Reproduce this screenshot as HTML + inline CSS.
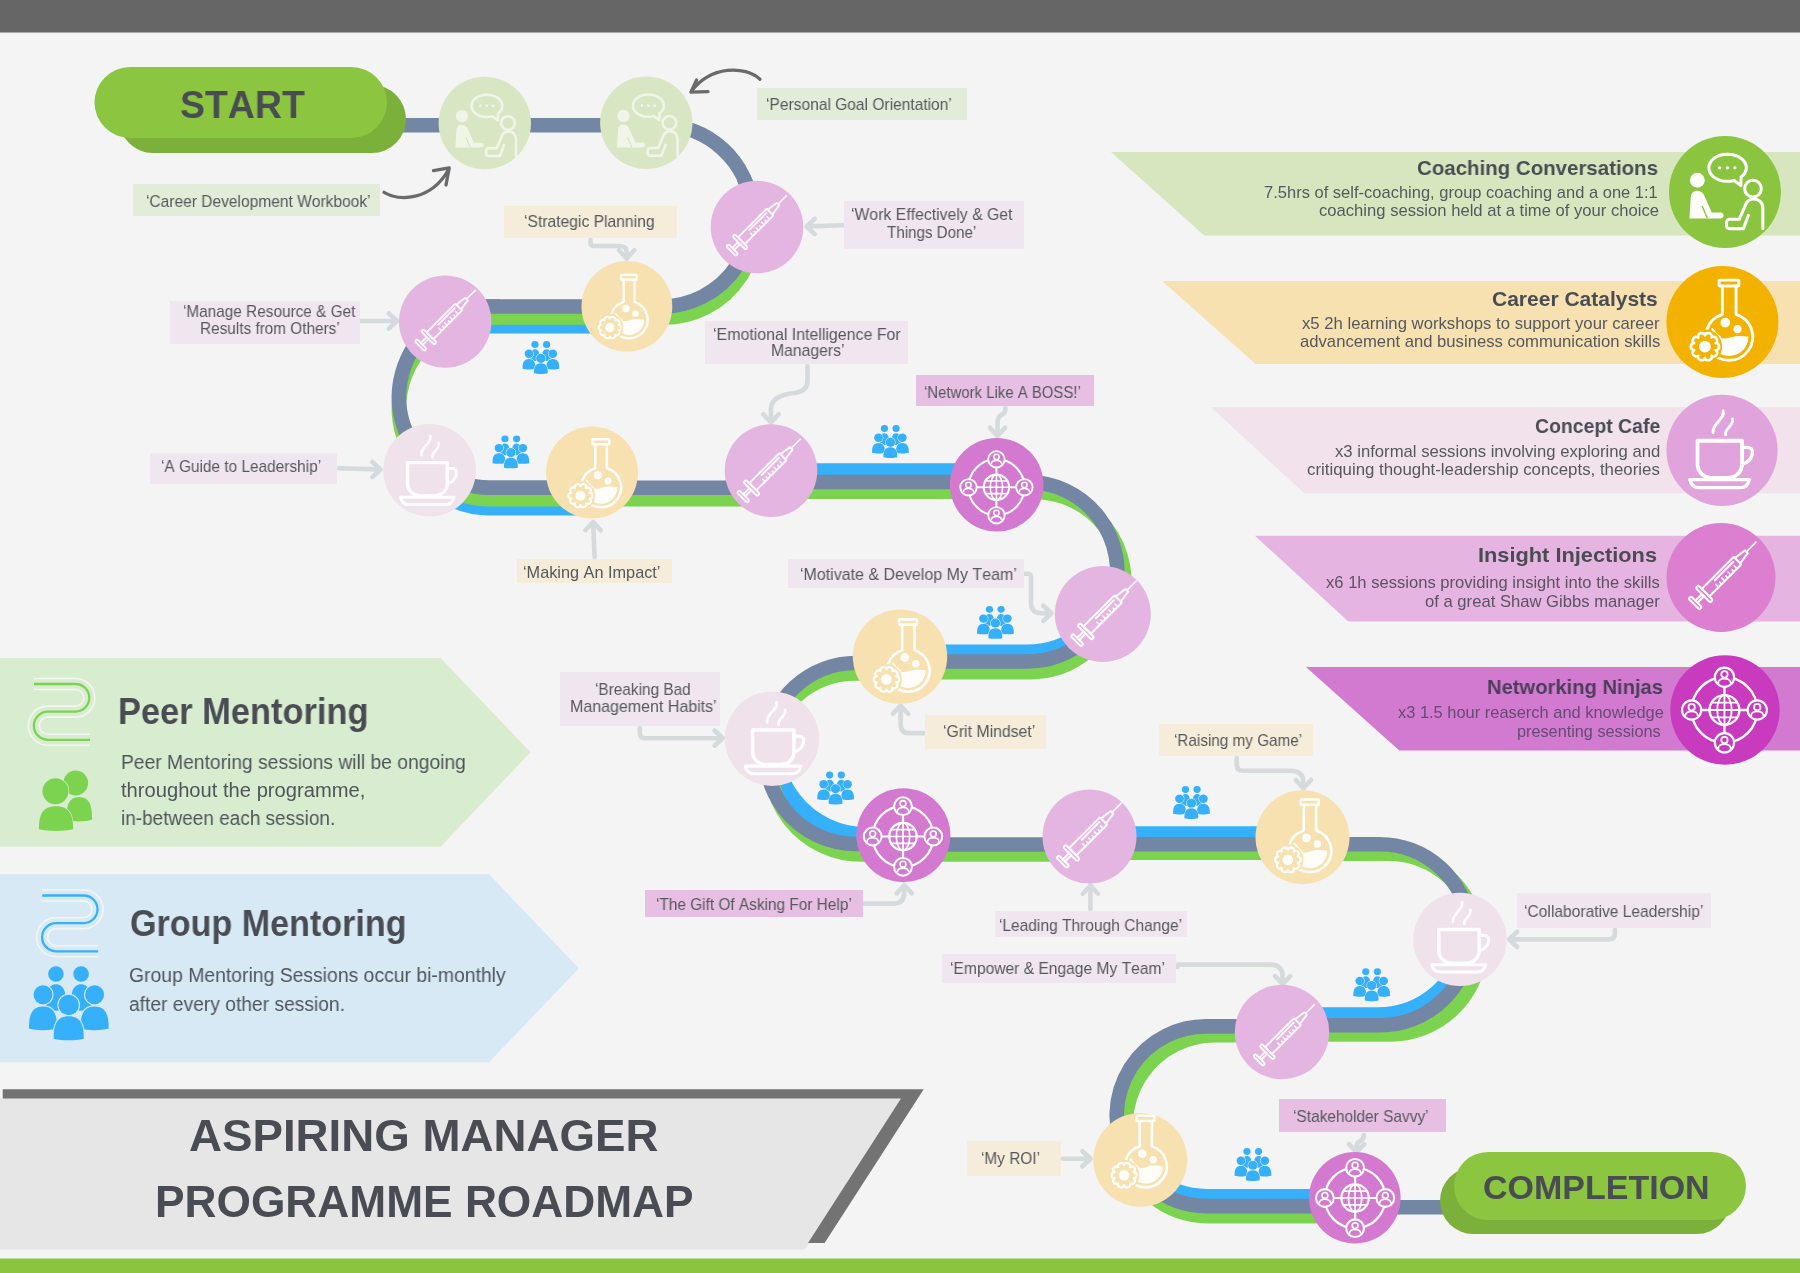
<!DOCTYPE html>
<html lang="en"><head><meta charset="utf-8"><title>Aspiring Manager Programme Roadmap</title>
<style>
html,body{margin:0;padding:0;background:#f4f4f4;}
body{width:1800px;height:1273px;position:relative;overflow:hidden;font-family:"Liberation Sans",sans-serif;color:#4d5157;}
svg.g{position:absolute;left:0;top:0;}
.l{position:absolute;display:flex;align-items:center;justify-content:center;text-align:center;font-size:16px;line-height:16.5px;letter-spacing:-0.2px;color:#55585c;white-space:nowrap;box-sizing:border-box;}
.t{position:absolute;white-space:nowrap;font-kerning:none;transform-origin:0 50%;will-change:transform;}
.r{text-align:right;}
.b{font-weight:bold;}
</style></head><body>

<svg class="g" width="1800" height="1273" viewBox="0 0 1800 1273">
<defs>
<symbol id="ic-coach" viewBox="0 0 100 100">
 <g fill="none" stroke="#fff" stroke-width="2.7" stroke-linecap="round" stroke-linejoin="round">
  <path d="M52.2 16.3C42.6 16.3 35.6 21.7 35.6 28.4C35.6 35.1 42.6 40.5 52.2 40.5C54.3 40.5 56.3 40.2 58.2 39.7L64.2 44.3L64.3 36.7C67.3 34.6 69 31.7 69 28.4C69 21.7 61.8 16.3 52.2 16.3Z"/>
  <circle cx="75" cy="47" r="7.4"/>
  <path d="M83.8 82.6V64.5C83.8 59.3 80.2 56.2 75.6 56.2C72.2 56.2 69.8 58 68.6 60.8L62.8 74.3H54C50.4 74.3 50.4 82.7 54 82.7H66.4L70.9 70.8"/>
 </g>
 <g fill="#fff">
  <circle cx="45.2" cy="28.4" r="1.45"/><circle cx="52.2" cy="28.4" r="1.45"/><circle cx="58.8" cy="28.4" r="1.45"/>
  <circle cx="25.3" cy="39.5" r="6.6"/>
  <path d="M18.2 73.6L19.4 55.2C19.7 50.6 22 48.8 25 48.8C28.4 48.8 30.4 50.6 31.6 53.4L38.2 68.4H46.2C49.6 68.4 49.6 73.6 46.2 73.6Z"/>
 </g>
 <path d="M29.6 62.5L34.2 73.4" fill="none" stroke="currentColor" stroke-width="1.3"/>
</symbol>

<symbol id="ic-flask" viewBox="0 0 100 100">
 <g fill="none" stroke="#fff" stroke-width="2.6" stroke-linecap="round" stroke-linejoin="round">
  <rect x="47" y="12.6" width="17.7" height="5.2" rx="0.6"/>
  <path d="M50 18V43.1A21 21 0 1 0 62.2 43.1V18"/>
  <path d="M41 56.3Q43.5 61 47.8 63.6" stroke-width="2"/>
 </g>
 <g fill="#fff">
  <circle cx="52.6" cy="50.5" r="4.3"/><circle cx="63.5" cy="56.4" r="3.7"/>
  <path d="M38.8 63.2C44 61.5 49 66.5 56 64C62 61.8 68 62.2 73.2 63.2A17.2 17.2 0 0 1 38.8 63.2Z"/>
 </g>
 <circle cx="34.4" cy="72" r="15.3" fill="currentColor"/>
 <path d="M47.00 72.00 L46.98 72.33 L46.94 72.66 L46.85 72.98 L46.74 73.30 L46.60 73.61 L46.42 73.90 L46.20 74.19 L45.95 74.45 L45.65 74.70 L45.30 74.92 L44.87 75.10 L44.01 75.12 L44.69 75.64 L44.94 76.05 L45.09 76.43 L45.19 76.80 L45.23 77.17 L45.24 77.52 L45.21 77.87 L45.15 78.20 L45.05 78.53 L44.93 78.84 L44.77 79.13 L44.59 79.41 L44.39 79.66 L44.16 79.90 L43.90 80.11 L43.62 80.30 L43.32 80.47 L43.00 80.60 L42.66 80.71 L42.30 80.77 L41.92 80.80 L41.50 80.77 L41.05 80.66 L40.34 80.17 L40.58 81.00 L40.55 81.47 L40.45 81.87 L40.30 82.23 L40.13 82.55 L39.92 82.84 L39.70 83.10 L39.45 83.34 L39.18 83.54 L38.90 83.72 L38.60 83.87 L38.29 83.98 L37.98 84.07 L37.65 84.13 L37.32 84.15 L36.98 84.14 L36.64 84.10 L36.30 84.02 L35.97 83.90 L35.63 83.74 L35.31 83.54 L34.99 83.27 L34.69 82.91 L34.40 82.10 L34.11 82.91 L33.81 83.27 L33.49 83.54 L33.17 83.74 L32.83 83.90 L32.50 84.02 L32.16 84.10 L31.82 84.14 L31.48 84.15 L31.15 84.13 L30.82 84.07 L30.51 83.98 L30.20 83.87 L29.90 83.72 L29.62 83.54 L29.35 83.34 L29.10 83.10 L28.88 82.84 L28.67 82.55 L28.50 82.23 L28.35 81.87 L28.25 81.47 L28.22 81.00 L28.46 80.17 L27.75 80.66 L27.30 80.77 L26.88 80.80 L26.50 80.77 L26.14 80.71 L25.80 80.60 L25.48 80.47 L25.18 80.30 L24.90 80.11 L24.64 79.90 L24.41 79.66 L24.21 79.41 L24.03 79.13 L23.87 78.84 L23.75 78.53 L23.65 78.20 L23.59 77.87 L23.56 77.52 L23.57 77.17 L23.61 76.80 L23.71 76.43 L23.86 76.05 L24.11 75.64 L24.79 75.12 L23.93 75.10 L23.50 74.92 L23.15 74.70 L22.85 74.45 L22.60 74.19 L22.38 73.90 L22.20 73.61 L22.06 73.30 L21.95 72.98 L21.86 72.66 L21.82 72.33 L21.80 72.00 L21.82 71.67 L21.86 71.34 L21.95 71.02 L22.06 70.70 L22.20 70.39 L22.38 70.10 L22.60 69.81 L22.85 69.55 L23.15 69.30 L23.50 69.08 L23.93 68.90 L24.79 68.88 L24.11 68.36 L23.86 67.95 L23.71 67.57 L23.61 67.20 L23.57 66.83 L23.56 66.48 L23.59 66.13 L23.65 65.80 L23.75 65.47 L23.87 65.16 L24.03 64.87 L24.21 64.59 L24.41 64.34 L24.64 64.10 L24.90 63.89 L25.18 63.70 L25.48 63.53 L25.80 63.40 L26.14 63.29 L26.50 63.23 L26.88 63.20 L27.30 63.23 L27.75 63.34 L28.46 63.83 L28.22 63.00 L28.25 62.53 L28.35 62.13 L28.50 61.77 L28.67 61.45 L28.88 61.16 L29.10 60.90 L29.35 60.66 L29.62 60.46 L29.90 60.28 L30.20 60.13 L30.51 60.02 L30.82 59.93 L31.15 59.87 L31.48 59.85 L31.82 59.86 L32.16 59.90 L32.50 59.98 L32.83 60.10 L33.17 60.26 L33.49 60.46 L33.81 60.73 L34.11 61.09 L34.40 61.90 L34.69 61.09 L34.99 60.73 L35.31 60.46 L35.63 60.26 L35.97 60.10 L36.30 59.98 L36.64 59.90 L36.98 59.86 L37.32 59.85 L37.65 59.87 L37.98 59.93 L38.29 60.02 L38.60 60.13 L38.90 60.28 L39.18 60.46 L39.45 60.66 L39.70 60.90 L39.92 61.16 L40.13 61.45 L40.30 61.77 L40.45 62.13 L40.55 62.53 L40.58 63.00 L40.34 63.83 L41.05 63.34 L41.50 63.23 L41.92 63.20 L42.30 63.23 L42.66 63.29 L43.00 63.40 L43.32 63.53 L43.62 63.70 L43.90 63.89 L44.16 64.10 L44.39 64.34 L44.59 64.59 L44.77 64.87 L44.93 65.16 L45.05 65.47 L45.15 65.80 L45.21 66.13 L45.24 66.48 L45.23 66.83 L45.19 67.20 L45.09 67.57 L44.94 67.95 L44.69 68.36 L44.01 68.88 L44.87 68.90 L45.30 69.08 L45.65 69.30 L45.95 69.55 L46.20 69.81 L46.42 70.10 L46.60 70.39 L46.74 70.70 L46.85 71.02 L46.94 71.34 L46.98 71.67 L47.00 72.00Z" fill="none" stroke="#fff" stroke-width="2.4" stroke-linejoin="round"/>
 <circle cx="34.4" cy="72" r="5.3" fill="#fff"/>
</symbol>

<symbol id="ic-coffee" viewBox="0 0 100 100">
 <g fill="none" stroke="#fff" stroke-width="3.4" stroke-linecap="round" stroke-linejoin="round">
  <path d="M28 41.4H68V62C68 70 62 74.8 55 74.8H41C34 74.8 28 70 28 62Z"/>
  <path d="M68.5 47.3H72.5C76.6 47.3 78 50 77.2 53.6C76 58.6 72.3 61.3 68.5 62.3" stroke-width="3"/>
  <path d="M21 76.3H74.6C73.4 81.5 70.5 83.6 66.5 83.6H29.2C25.2 83.6 22.2 81.5 21 76.3Z" stroke-width="3"/>
  <path d="M51 14.5C53.2 21.5 40.6 26.5 42 34" stroke-width="2.6"/>
  <path d="M59.4 21.8C61.2 27.5 52 30.5 53.2 36" stroke-width="2.6"/>
 </g>
</symbol>

<symbol id="ic-syringe" viewBox="0 0 100 100">
 <g transform="translate(53.5 46.2) rotate(-45)" fill="none" stroke="#fff" stroke-width="1.9" stroke-linecap="round" stroke-linejoin="round">
  <rect x="-40" y="-7" width="3.2" height="14" rx="1.6"/>
  <path d="M-36.8 -1.4H-28.4M-36.8 1.4H-28.4"/>
  <rect x="-28.4" y="-9.5" width="3.4" height="19" rx="1.7"/>
  <rect x="-25" y="-4.9" width="41.5" height="9.8" rx="0.8"/>
  <path d="M-11 -2H13"/>
  <path d="M-13 4.8V1.2M-9 4.8V2.5M-5 4.8V1.2M-1 4.8V2.5M3 4.8V1.2M7 4.8V2.5M11 4.8V1.2" stroke-width="1.5"/>
  <path d="M16.5 -3.4L28 -1.8V1.8L16.5 3.4"/>
  <path d="M28 0H40.5" stroke-width="1.5"/>
 </g>
</symbol>

<symbol id="ic-person" viewBox="-10 -10 20 20" overflow="visible">
 <circle cx="0" cy="0" r="8.8" fill="currentColor" stroke="#fff" stroke-width="2"/>
 <circle cx="0" cy="-2.6" r="2.9" fill="none" stroke="#fff" stroke-width="1.6"/>
 <path d="M-5.6 4.9C-5.2 1.6 -2.8 1.3 0 1.3C2.8 1.3 5.2 1.6 5.6 4.9" fill="none" stroke="#fff" stroke-width="1.6" stroke-linecap="round"/>
</symbol>

<symbol id="ic-network" viewBox="0 0 100 100">
 <g fill="none" stroke="#fff" stroke-width="2.2">
  <circle cx="49.5" cy="50" r="30"/>
  <path d="M49.5 20V80M19.5 50H79.5"/>
  <circle cx="49.5" cy="50" r="13.6" fill="currentColor"/>
  <ellipse cx="49.5" cy="50" rx="6.6" ry="13.6" stroke-width="1.7"/>
  <path d="M49.5 36.4V63.6M35.9 50H63.1M37.8 43.2H61.2M37.8 56.8H61.2" stroke-width="1.7"/>
 </g>
 <use href="#ic-person" x="39.5" y="10" width="20" height="20"/>
 <use href="#ic-person" x="39.5" y="70" width="20" height="20"/>
 <use href="#ic-person" x="9.5" y="40" width="20" height="20"/>
 <use href="#ic-person" x="69.5" y="40" width="20" height="20"/>
</symbol>
<symbol id="ic-group" viewBox="27 964 84 78" preserveAspectRatio="none">
<g fill="#36b0fa">
<circle cx="55.9" cy="974" r="7.8"/><path d="M45.40 1009.10 C45.10 993.66 47.50 984.30 55.90 984.30 C64.30 984.30 66.70 993.66 66.40 1009.10 C60.52 1011.30 51.28 1011.30 45.40 1009.10Z"/><circle cx="81.1" cy="974" r="7.8"/><path d="M70.60 1009.10 C70.30 993.66 72.70 984.30 81.10 984.30 C89.50 984.30 91.90 993.66 91.60 1009.10 C85.72 1011.30 76.48 1011.30 70.60 1009.10Z"/></g>
<g fill="#36b0fa" stroke="currentColor" stroke-width="2.2" paint-order="stroke">
<circle cx="43.0" cy="994.8" r="9.5"/><path d="M29.00 1028.60 C28.70 1014.82 31.80 1006.40 43.00 1006.40 C54.20 1006.40 57.30 1014.82 57.00 1028.60 C49.16 1030.80 36.84 1030.80 29.00 1028.60Z"/><circle cx="94.6" cy="994.8" r="9.5"/><path d="M80.60 1028.60 C80.30 1014.82 83.40 1006.40 94.60 1006.40 C105.80 1006.40 108.90 1014.82 108.60 1028.60 C100.76 1030.80 88.44 1030.80 80.60 1028.60Z"/><circle cx="68.7" cy="1005" r="10.2"/><path d="M53.70 1038.70 C53.40 1024.80 56.70 1016.30 68.70 1016.30 C80.70 1016.30 84.00 1024.80 83.70 1038.70 C75.30 1040.90 62.10 1040.90 53.70 1038.70Z"/></g>
</symbol>
<symbol id="ic-peer" viewBox="36 768 60 66">
 <g fill="#7bd350">
  <circle cx="75.7" cy="783" r="12.4"/>
  <path d="M66.40 819.80 C66.10 805.64 68.96 797.00 79.20 797.00 C89.44 797.00 92.30 805.64 92.00 819.80 C84.83 822.00 73.57 822.00 66.40 819.80Z"/>
 </g>
 <g fill="#7bd350" stroke="currentColor" stroke-width="1.4" paint-order="stroke">
  <circle cx="55.5" cy="791.2" r="13"/>
  <path d="M39.00 829.30 C38.70 815.01 42.40 806.30 56.00 806.30 C69.60 806.30 73.30 815.01 73.00 829.30 C63.48 831.50 48.52 831.50 39.00 829.30Z"/>
 </g>
</symbol>
</defs>
<rect x="0" y="0" width="1800" height="32.5" fill="#666666"/>
<rect x="0" y="1258.5" width="1800" height="15" fill="#8bc53f"/>
<polygon points="1111.0,152.0 1800,152.0 1800,235.5 1204.2,235.5" fill="#d8e6c0"/>
<polygon points="1162.2,281.0 1800,281.0 1800,364.0 1255.6,364.0" fill="#f7e1b0"/>
<polygon points="1210.9,407.0 1800,407.0 1800,493.3 1304.2,493.3" fill="#f1e2ec"/>
<polygon points="1255.0,535.8 1800,535.8 1800,621.6 1348.3,621.6" fill="#e5b4e0"/>
<polygon points="1306.0,667.0 1800,667.0 1800,750.5 1399.3,750.5" fill="#d27ad0"/>
<polygon points="0,658 440.6,658 530.5,752.3 440.6,846.7 0,846.7" fill="#d8ecd0"/>
<polygon points="0,874.3 489,874.3 578.9,968.3 489,1062.3 0,1062.3" fill="#d6e9f5"/>
<polygon points="0,1098 903,1098 805,1249.5 0,1249.5" fill="#e6e6e6"/>
<polygon points="2.7,1089.3 923.7,1089.3 824.6,1243 808,1243 901,1098.4 2.7,1098.4" fill="#737373"/>
<path d="M400 125.2H661.5L661.50 125.20A90.60 90.60 0 0 1 751.76 207.90" transform="translate(0.0 0.0)" fill="none" stroke="#7386a4" stroke-width="14.6"/>
<path d="M743.61 177.51A90.60 90.60 0 0 1 661.50 306.40H627" transform="translate(3.0 11.0)" fill="none" stroke="#7bd350" stroke-width="14.6"/>
<path d="M743.61 177.51A90.60 90.60 0 0 1 661.50 306.40H627" transform="translate(0.0 0.0)" fill="none" stroke="#7386a4" stroke-width="14.6"/>
<path d="M640 306.5H445" transform="translate(0.0 19.6)" fill="none" stroke="#36b0fa" stroke-width="14.6"/>
<path d="M640 306.5H445" transform="translate(0.0 11.0)" fill="none" stroke="#7bd350" stroke-width="14.6"/>
<path d="M640 306.5H445" transform="translate(0.0 0.0)" fill="none" stroke="#7386a4" stroke-width="14.6"/>
<path d="M500 306.5H489.5L489.50 306.50A90.50 90.50 0 0 0 444.25 475.38" transform="translate(0.0 11.0)" fill="none" stroke="#7bd350" stroke-width="14.6"/>
<path d="M500 306.5H489.5L489.50 306.50A90.50 90.50 0 0 0 444.25 475.38" transform="translate(0.0 0.0)" fill="none" stroke="#7386a4" stroke-width="14.6"/>
<path d="M404.46 428.05A90.50 90.50 0 0 0 489.50 487.60H600" transform="translate(0.0 20.5)" fill="none" stroke="#36b0fa" stroke-width="14.6"/>
<path d="M404.46 428.05A90.50 90.50 0 0 0 489.50 487.60H600" transform="translate(0.0 11.5)" fill="none" stroke="#7bd350" stroke-width="14.6"/>
<path d="M404.46 428.05A90.50 90.50 0 0 0 489.50 487.60H600" transform="translate(0.0 0.0)" fill="none" stroke="#7386a4" stroke-width="14.6"/>
<path d="M590 487.8H775" transform="translate(0.0 11.5)" fill="none" stroke="#7bd350" stroke-width="14.6"/>
<path d="M590 487.8H775" transform="translate(0.0 0.0)" fill="none" stroke="#7386a4" stroke-width="14.6"/>
<path d="M770 482H1000" transform="translate(0.0 -11.5)" fill="none" stroke="#36b0fa" stroke-width="14.6"/>
<path d="M770 482H1000" transform="translate(0.0 9.8)" fill="none" stroke="#7bd350" stroke-width="14.6"/>
<path d="M770 482H1000" transform="translate(0.0 0.0)" fill="none" stroke="#7386a4" stroke-width="14.6"/>
<path d="M990 482H1027L1027.50 482.00A89.75 89.75 0 0 1 1114.19 594.98" transform="translate(7.0 10.0)" fill="none" stroke="#7bd350" stroke-width="14.6"/>
<path d="M990 482H1027L1027.50 482.00A89.75 89.75 0 0 1 1114.19 594.98" transform="translate(0.0 0.0)" fill="none" stroke="#7386a4" stroke-width="14.6"/>
<path d="M1115.39 587.33A89.75 89.75 0 0 1 1027.00 661.50H900" transform="translate(0.0 -9.6)" fill="none" stroke="#36b0fa" stroke-width="14.6"/>
<path d="M1115.39 587.33A89.75 89.75 0 0 1 1027.00 661.50H900" transform="translate(3.0 10.6)" fill="none" stroke="#7bd350" stroke-width="14.6"/>
<path d="M1115.39 587.33A89.75 89.75 0 0 1 1027.00 661.50H900" transform="translate(0.0 0.0)" fill="none" stroke="#7386a4" stroke-width="14.6"/>
<path d="M905 663H856L856.00 663.00A90.50 90.50 0 0 0 765.84 745.61" transform="translate(0.0 10.5)" fill="none" stroke="#7bd350" stroke-width="14.6"/>
<path d="M905 663H856L856.00 663.00A90.50 90.50 0 0 0 765.84 745.61" transform="translate(0.0 0.0)" fill="none" stroke="#7386a4" stroke-width="14.6"/>
<path d="M768.58 730.08A90.50 90.50 0 0 0 856.00 844.00H905" transform="translate(9.5 -9.8)" fill="none" stroke="#36b0fa" stroke-width="14.6"/>
<path d="M768.58 730.08A90.50 90.50 0 0 0 856.00 844.00H905" transform="translate(5.0 10.4)" fill="none" stroke="#7bd350" stroke-width="14.6"/>
<path d="M768.58 730.08A90.50 90.50 0 0 0 856.00 844.00H905" transform="translate(0.0 0.0)" fill="none" stroke="#7386a4" stroke-width="14.6"/>
<path d="M900 844.5H1090" transform="translate(0.0 10.0)" fill="none" stroke="#7bd350" stroke-width="14.6"/>
<path d="M900 844.5H1090" transform="translate(0.0 0.0)" fill="none" stroke="#7386a4" stroke-width="14.6"/>
<path d="M1088 844.2H1302" transform="translate(0.0 -10.6)" fill="none" stroke="#36b0fa" stroke-width="14.6"/>
<path d="M1088 844.2H1302" transform="translate(0.0 8.6)" fill="none" stroke="#7bd350" stroke-width="14.6"/>
<path d="M1088 844.2H1302" transform="translate(0.0 0.0)" fill="none" stroke="#7386a4" stroke-width="14.6"/>
<path d="M1300 844.2H1379.5L1379.50 844.20A90.50 90.50 0 0 1 1469.66 926.81" transform="translate(8.5 9.5)" fill="none" stroke="#7bd350" stroke-width="14.6"/>
<path d="M1300 844.2H1379.5L1379.50 844.20A90.50 90.50 0 0 1 1469.66 926.81" transform="translate(0.0 0.0)" fill="none" stroke="#7386a4" stroke-width="14.6"/>
<path d="M1470.36 942.59A90.50 90.50 0 0 1 1380.20 1025.20H1282" transform="translate(-3.0 -10.6)" fill="none" stroke="#36b0fa" stroke-width="14.6"/>
<path d="M1470.36 942.59A90.50 90.50 0 0 1 1380.20 1025.20H1282" transform="translate(10.0 9.2)" fill="none" stroke="#7bd350" stroke-width="14.6"/>
<path d="M1470.36 942.59A90.50 90.50 0 0 1 1380.20 1025.20H1282" transform="translate(0.0 0.0)" fill="none" stroke="#7386a4" stroke-width="14.6"/>
<path d="M1285 1026.4H1206L1206.00 1026.40A89.25 89.25 0 0 0 1125.11 1153.37" transform="translate(9.0 8.8)" fill="none" stroke="#7bd350" stroke-width="14.6"/>
<path d="M1285 1026.4H1206L1206.00 1026.40A89.25 89.25 0 0 0 1125.11 1153.37" transform="translate(0.0 0.0)" fill="none" stroke="#7386a4" stroke-width="14.6"/>
<path d="M1119.41 1132.35A89.25 89.25 0 0 0 1207.30 1206.10H1355" transform="translate(0.0 -9.8)" fill="none" stroke="#36b0fa" stroke-width="14.6"/>
<path d="M1119.41 1132.35A89.25 89.25 0 0 0 1207.30 1206.10H1355" transform="translate(1.0 10.0)" fill="none" stroke="#7bd350" stroke-width="14.6"/>
<path d="M1119.41 1132.35A89.25 89.25 0 0 0 1207.30 1206.10H1355" transform="translate(0.0 0.0)" fill="none" stroke="#7386a4" stroke-width="14.6"/>
<path d="M1350 1207.2H1450" transform="translate(0.0 0.0)" fill="none" stroke="#7386a4" stroke-width="14.6"/>
<path d="M590.5 240V243Q590.5 246 594 246H619Q626.5 246 626.7 252V257" fill="none" stroke="#d5dadd" stroke-width="4.6" stroke-linecap="round" stroke-linejoin="round"/>
<path d="M619.1 250.3L626.7 258.5L634.3 250.3" fill="none" stroke="#d5dadd" stroke-width="4.6" stroke-linecap="round" stroke-linejoin="round"/>
<path d="M844 225.2L808 226.4" fill="none" stroke="#d5dadd" stroke-width="4.6" stroke-linecap="round" stroke-linejoin="round"/>
<path d="M814.7 218.9L806.5 226.5L814.7 234.1" fill="none" stroke="#d5dadd" stroke-width="4.6" stroke-linecap="round" stroke-linejoin="round"/>
<path d="M361 321H395" fill="none" stroke="#d5dadd" stroke-width="4.6" stroke-linecap="round" stroke-linejoin="round"/>
<path d="M388.8 328.6L397.0 321.0L388.8 313.4" fill="none" stroke="#d5dadd" stroke-width="4.6" stroke-linecap="round" stroke-linejoin="round"/>
<path d="M807.5 366V381Q807.5 391 795 393Q772 395 771 408V421" fill="none" stroke="#d5dadd" stroke-width="4.6" stroke-linecap="round" stroke-linejoin="round"/>
<path d="M763.4 414.3L771.0 422.5L778.6 414.3" fill="none" stroke="#d5dadd" stroke-width="4.6" stroke-linecap="round" stroke-linejoin="round"/>
<path d="M1005.3 408Q1006 413 1001 415Q997.3 417 997.5 424V435" fill="none" stroke="#d5dadd" stroke-width="4.6" stroke-linecap="round" stroke-linejoin="round"/>
<path d="M989.9 427.8L997.5 436.0L1005.1 427.8" fill="none" stroke="#d5dadd" stroke-width="4.6" stroke-linecap="round" stroke-linejoin="round"/>
<path d="M338.5 468.2L379 469.4" fill="none" stroke="#d5dadd" stroke-width="4.6" stroke-linecap="round" stroke-linejoin="round"/>
<path d="M372.3 477.1L380.5 469.5L372.3 461.9" fill="none" stroke="#d5dadd" stroke-width="4.6" stroke-linecap="round" stroke-linejoin="round"/>
<path d="M594.6 557L593.2 523" fill="none" stroke="#d5dadd" stroke-width="4.6" stroke-linecap="round" stroke-linejoin="round"/>
<path d="M600.7 530.2L593.1 522.0L585.5 530.2" fill="none" stroke="#d5dadd" stroke-width="4.6" stroke-linecap="round" stroke-linejoin="round"/>
<path d="M1025 573.8H1028Q1031 573.8 1031 577V603Q1031 612.8 1041 613.2H1050" fill="none" stroke="#d5dadd" stroke-width="4.6" stroke-linecap="round" stroke-linejoin="round"/>
<path d="M1043.3 620.9L1051.5 613.3L1043.3 605.7" fill="none" stroke="#d5dadd" stroke-width="4.6" stroke-linecap="round" stroke-linejoin="round"/>
<path d="M639.8 728V733Q639.8 738.2 645 738.2H721" fill="none" stroke="#d5dadd" stroke-width="4.6" stroke-linecap="round" stroke-linejoin="round"/>
<path d="M714.6 745.7L722.8 738.1L714.6 730.5" fill="none" stroke="#d5dadd" stroke-width="4.6" stroke-linecap="round" stroke-linejoin="round"/>
<path d="M923.5 733.1H909Q900.8 733.1 900.6 724V707" fill="none" stroke="#d5dadd" stroke-width="4.6" stroke-linecap="round" stroke-linejoin="round"/>
<path d="M908.1 713.8L900.5 705.6L892.9 713.8" fill="none" stroke="#d5dadd" stroke-width="4.6" stroke-linecap="round" stroke-linejoin="round"/>
<path d="M1236.7 758V765Q1236.7 770.7 1243 770.7H1290Q1302.8 770.7 1303.2 781V787" fill="none" stroke="#d5dadd" stroke-width="4.6" stroke-linecap="round" stroke-linejoin="round"/>
<path d="M1295.8 780.0L1303.4 788.2L1311.0 780.0" fill="none" stroke="#d5dadd" stroke-width="4.6" stroke-linecap="round" stroke-linejoin="round"/>
<path d="M864 903.6H894Q903.8 903.6 904.2 893V886.5" fill="none" stroke="#d5dadd" stroke-width="4.6" stroke-linecap="round" stroke-linejoin="round"/>
<path d="M911.9 893.4L904.3 885.2L896.7 893.4" fill="none" stroke="#d5dadd" stroke-width="4.6" stroke-linecap="round" stroke-linejoin="round"/>
<path d="M1090.4 909V887" fill="none" stroke="#d5dadd" stroke-width="4.6" stroke-linecap="round" stroke-linejoin="round"/>
<path d="M1098.0 893.7L1090.4 885.5L1082.8 893.7" fill="none" stroke="#d5dadd" stroke-width="4.6" stroke-linecap="round" stroke-linejoin="round"/>
<path d="M1177.5 967V964.6H1270Q1282 964.6 1282.5 975V983" fill="none" stroke="#d5dadd" stroke-width="4.6" stroke-linecap="round" stroke-linejoin="round"/>
<path d="M1275.0 976.1L1282.6 984.3L1290.2 976.1" fill="none" stroke="#d5dadd" stroke-width="4.6" stroke-linecap="round" stroke-linejoin="round"/>
<path d="M1614.9 929.5V934Q1614.9 939.4 1608 939.4H1510.5" fill="none" stroke="#d5dadd" stroke-width="4.6" stroke-linecap="round" stroke-linejoin="round"/>
<path d="M1517.2 931.8L1509.0 939.4L1517.2 947.0" fill="none" stroke="#d5dadd" stroke-width="4.6" stroke-linecap="round" stroke-linejoin="round"/>
<path d="M1363.9 1135Q1364 1139 1360 1141Q1356.5 1143 1356.6 1147V1151" fill="none" stroke="#d5dadd" stroke-width="4.6" stroke-linecap="round" stroke-linejoin="round"/>
<path d="M1349.0 1144.1L1356.6 1152.3L1364.2 1144.1" fill="none" stroke="#d5dadd" stroke-width="4.6" stroke-linecap="round" stroke-linejoin="round"/>
<path d="M1063 1158.8H1089" fill="none" stroke="#d5dadd" stroke-width="4.6" stroke-linecap="round" stroke-linejoin="round"/>
<path d="M1082.4 1166.4L1090.6 1158.8L1082.4 1151.2" fill="none" stroke="#d5dadd" stroke-width="4.6" stroke-linecap="round" stroke-linejoin="round"/>
<path d="M384 192.3C399 201.5 431 201 448.6 169.5" fill="none" stroke="#6a6a6a" stroke-width="3.3" stroke-linecap="round"/>
<path d="M433.5 170.6L449.2 167.9L446 185" fill="none" stroke="#6a6a6a" stroke-width="3.3" stroke-linecap="round" stroke-linejoin="round"/>
<path d="M760 79.2C745 65.5 711 65.5 691.4 91.2" fill="none" stroke="#6a6a6a" stroke-width="3.3" stroke-linecap="round"/>
<path d="M696.6 80L690.9 92.2L708 91.6" fill="none" stroke="#6a6a6a" stroke-width="3.3" stroke-linecap="round" stroke-linejoin="round"/>
<rect x="119" y="85" width="287" height="68" rx="34" fill="#7bb03a"/>
<rect x="94.5" y="67" width="292.5" height="71" rx="35.5" fill="#8cc540"/>
<rect x="1440" y="1167.5" width="290" height="66.5" rx="33.2" fill="#7bb03a"/>
<rect x="1454" y="1152" width="292" height="68" rx="34" fill="#8cc540"/>
<circle cx="484.8" cy="123.0" r="46.2" fill="#d9e6c4"/>
<use href="#ic-coach" x="438.6" y="79.6" width="92.4" height="92.4" style="color:#d9e6c4" opacity="0.62"/>
<circle cx="646.3" cy="122.8" r="46.2" fill="#d9e6c4"/>
<use href="#ic-coach" x="600.1" y="79.4" width="92.4" height="92.4" style="color:#d9e6c4" opacity="0.62"/>
<circle cx="757.0" cy="227.0" r="46.3" fill="#e5b5e1"/>
<use href="#ic-syringe" x="706.4" y="178.4" width="97.6" height="97.6" style="color:#e5b5e1" opacity="0.95"/>
<circle cx="626.9" cy="306.4" r="45.4" fill="#f7e1b0"/>
<use href="#ic-flask" x="579.4" y="263.8" width="88.5" height="88.5" style="color:#f7e1b0" opacity="0.95"/>
<circle cx="445.2" cy="321.6" r="46.2" fill="#e5b5e1"/>
<use href="#ic-syringe" x="394.9" y="273.2" width="97.9" height="97.9" style="color:#e5b5e1" opacity="0.95"/>
<circle cx="429.6" cy="470.3" r="46.3" fill="#f0e2ea"/>
<use href="#ic-coffee" x="379.6" y="421.4" width="99.5" height="99.5" style="color:#f0e2ea" opacity="0.95"/>
<circle cx="592.0" cy="472.6" r="46.0" fill="#f7e1b0"/>
<use href="#ic-flask" x="547.8" y="427.3" width="95.0" height="95.0" style="color:#f7e1b0" opacity="0.95"/>
<circle cx="771.0" cy="470.6" r="46.3" fill="#e5b5e1"/>
<use href="#ic-syringe" x="716.2" y="421.3" width="102.4" height="102.4" style="color:#e5b5e1" opacity="0.95"/>
<circle cx="996.7" cy="484.7" r="46.8" fill="#d37ad0"/>
<use href="#ic-network" x="950.3" y="440.7" width="93.2" height="93.2" style="color:#d37ad0" opacity="1.00"/>
<circle cx="1102.8" cy="614.0" r="48.0" fill="#e5b5e1"/>
<use href="#ic-syringe" x="1049.1" y="562.4" width="106.0" height="106.0" style="color:#e5b5e1" opacity="0.95"/>
<circle cx="900.0" cy="656.6" r="47.2" fill="#f7e1b0"/>
<use href="#ic-flask" x="851.7" y="606.7" width="101.0" height="101.0" style="color:#f7e1b0" opacity="0.95"/>
<circle cx="772.0" cy="738.7" r="47.2" fill="#f0e2ea"/>
<use href="#ic-coffee" x="723.6" y="687.2" width="103.5" height="103.5" style="color:#f0e2ea" opacity="0.95"/>
<circle cx="903.4" cy="835.2" r="47.0" fill="#d37ad0"/>
<use href="#ic-network" x="853.0" y="786.0" width="101.0" height="101.0" style="color:#d37ad0" opacity="1.00"/>
<circle cx="1089.5" cy="836.5" r="47.0" fill="#e5b5e1"/>
<use href="#ic-syringe" x="1035.1" y="784.7" width="105.0" height="105.0" style="color:#e5b5e1" opacity="0.95"/>
<circle cx="1302.5" cy="837.2" r="47.0" fill="#f7e1b0"/>
<use href="#ic-flask" x="1253.0" y="786.7" width="101.5" height="101.5" style="color:#f7e1b0" opacity="0.95"/>
<circle cx="1460.0" cy="939.4" r="46.7" fill="#f0e2ea"/>
<use href="#ic-coffee" x="1410.5" y="887.6" width="101.0" height="101.0" style="color:#f0e2ea" opacity="0.95"/>
<circle cx="1282.0" cy="1032.0" r="47.2" fill="#e5b5e1"/>
<use href="#ic-syringe" x="1233.2" y="987.5" width="98.7" height="98.7" style="color:#e5b5e1" opacity="0.95"/>
<circle cx="1140.3" cy="1159.8" r="46.9" fill="#f7e1b0"/>
<use href="#ic-flask" x="1089.7" y="1103.2" width="100.0" height="100.0" style="color:#f7e1b0" opacity="0.95"/>
<circle cx="1354.8" cy="1197.8" r="45.8" fill="#d37ad0"/>
<use href="#ic-network" x="1305.2" y="1147.6" width="100.8" height="100.8" style="color:#d37ad0" opacity="1.00"/>
<circle cx="1725.0" cy="192.0" r="56.0" fill="#8bc53f"/>
<use href="#ic-coach" x="1669.0" y="136.0" width="112.0" height="112.0" style="color:#8bc53f" opacity="1.00"/>
<circle cx="1722.4" cy="322.0" r="56.0" fill="#f3b200"/>
<use href="#ic-flask" x="1666.4" y="266.0" width="112.0" height="112.0" style="color:#f3b200" opacity="1.00"/>
<circle cx="1722.0" cy="450.3" r="55.6" fill="#e1a3db"/>
<use href="#ic-coffee" x="1666.4" y="394.7" width="111.2" height="111.2" style="color:#e1a3db" opacity="1.00"/>
<circle cx="1721.0" cy="577.5" r="54.5" fill="#dc7fd1"/>
<use href="#ic-syringe" x="1666.5" y="523.0" width="109.0" height="109.0" style="color:#dc7fd1" opacity="1.00"/>
<circle cx="1725.0" cy="710.0" r="54.7" fill="#c83bbf"/>
<use href="#ic-network" x="1670.3" y="655.3" width="109.4" height="109.4" style="color:#c83bbf" opacity="1.00"/>
<use href="#ic-group" x="521.6" y="340.1" width="38.8" height="34.7" style="color:#f4f4f4"/>
<use href="#ic-group" x="491.6" y="434.4" width="38.8" height="34.7" style="color:#f4f4f4"/>
<use href="#ic-group" x="871.1" y="424.1" width="38.8" height="34.7" style="color:#f4f4f4"/>
<use href="#ic-group" x="976.1" y="604.9" width="38.8" height="34.7" style="color:#f4f4f4"/>
<use href="#ic-group" x="816.3" y="770.6" width="38.8" height="34.7" style="color:#f4f4f4"/>
<use href="#ic-group" x="1172.1" y="785.0" width="38.8" height="34.7" style="color:#f4f4f4"/>
<use href="#ic-group" x="1352.4" y="967.2" width="38.8" height="34.7" style="color:#f4f4f4"/>
<use href="#ic-group" x="1233.6" y="1147.0" width="38.8" height="34.7" style="color:#f4f4f4"/>
<use href="#ic-group" x="27" y="964" width="84" height="78" style="color:#d6e9f5"/>
<use href="#ic-peer" x="36" y="768" width="60" height="66" style="color:#d8ecd0"/>
<path d="M34.0 684.0 h41.5 a13.8 13.8 0 0 1 0 27.6 h-27.5 a14.1 14.1 0 0 0 0 28.2 h42" fill="none" stroke="#f3f6f3" stroke-width="12.6"/>
<path d="M34.0 684.0 h41.5 a13.8 13.8 0 0 1 0 27.6 h-27.5 a14.1 14.1 0 0 0 0 28.2 h42" fill="none" stroke="#d8ecd0" stroke-width="9.4"/>
<path d="M34.0 684.0 h41.5 a13.8 13.8 0 0 1 0 27.6 h-27.5 a14.1 14.1 0 0 0 0 28.2 h42" fill="none" stroke="#7bd350" stroke-width="2.3"/>
<path d="M42.2 895.5 h41.5 a13.8 13.8 0 0 1 0 27.6 h-27.5 a14.1 14.1 0 0 0 0 28.2 h42" fill="none" stroke="#f3f6f3" stroke-width="12.6"/>
<path d="M42.2 895.5 h41.5 a13.8 13.8 0 0 1 0 27.6 h-27.5 a14.1 14.1 0 0 0 0 28.2 h42" fill="none" stroke="#d6e9f5" stroke-width="9.4"/>
<path d="M42.2 895.5 h41.5 a13.8 13.8 0 0 1 0 27.6 h-27.5 a14.1 14.1 0 0 0 0 28.2 h42" fill="none" stroke="#36b0fa" stroke-width="2.3"/>
</svg>
<div class="l" style="left:133.0px;top:184.0px;width:247.0px;height:31.5px;background:#e3ecd9"></div>
<div class="t" style="left:145.6px;top:192.3px;font-size:16.2px;line-height:19.4px;transform:scaleX(0.9598);color:#55585c;">‘Career Development Workbook’</div>
<div class="l" style="left:756.6px;top:88.1px;width:210.0px;height:31.9px;background:#e3ecd9"></div>
<div class="t" style="left:765.6px;top:94.9px;font-size:16.2px;line-height:19.4px;transform:scaleX(0.9607);color:#55585c;">‘Personal Goal Orientation’</div>
<div class="l" style="left:504.4px;top:205.5px;width:173.0px;height:32.5px;background:#f5ecd9"></div>
<div class="t" style="left:524.0px;top:211.6px;font-size:16.2px;line-height:19.4px;transform:scaleX(0.9675);color:#55585c;">‘Strategic Planning</div>
<div class="l" style="left:844.2px;top:201.0px;width:179.8px;height:48.0px;background:#efe6ef"></div>
<div class="t" style="left:851.0px;top:204.9px;font-size:16.2px;line-height:19.4px;transform:scaleX(0.9754);color:#55585c;">‘Work Effectively &amp; Get</div>
<div class="t" style="left:887.0px;top:222.5px;font-size:16.2px;line-height:19.4px;transform:scaleX(0.9366);color:#55585c;">Things Done’</div>
<div class="l" style="left:170.0px;top:301.2px;width:190.0px;height:42.6px;background:#efe6ef"></div>
<div class="t" style="left:182.5px;top:302.2px;font-size:16.2px;line-height:19.4px;transform:scaleX(0.9483);color:#55585c;">‘Manage Resource &amp; Get</div>
<div class="t" style="left:199.6px;top:318.8px;font-size:16.2px;line-height:19.4px;transform:scaleX(0.9469);color:#55585c;">Results from Others’</div>
<div class="l" style="left:705.2px;top:320.5px;width:202.5px;height:43.7px;background:#efe6ef"></div>
<div class="t" style="left:713.3px;top:325.0px;font-size:16.2px;line-height:19.4px;transform:scaleX(0.9843);color:#55585c;">‘Emotional Intelligence For</div>
<div class="t" style="left:770.5px;top:340.9px;font-size:16.2px;line-height:19.4px;transform:scaleX(0.9717);color:#55585c;">Managers’</div>
<div class="l" style="left:916.3px;top:375.4px;width:177.8px;height:30.8px;background:#e6bfe3"></div>
<div class="t" style="left:924.0px;top:382.5px;font-size:16.2px;line-height:19.4px;transform:scaleX(0.9218);color:#55585c;">‘Network Like A BOSS!’</div>
<div class="l" style="left:150.0px;top:452.6px;width:187.2px;height:31.9px;background:#efe6ef"></div>
<div class="t" style="left:160.9px;top:457.3px;font-size:16.2px;line-height:19.4px;transform:scaleX(0.9515);color:#55585c;">‘A Guide to Leadership’</div>
<div class="l" style="left:517.3px;top:559.0px;width:154.4px;height:24.2px;background:#f5ecd9"></div>
<div class="t" style="left:522.9px;top:563.3px;font-size:16.2px;line-height:19.4px;transform:scaleX(1.0054);color:#55585c;">‘Making An Impact’</div>
<div class="l" style="left:787.7px;top:559.0px;width:236.1px;height:29.4px;background:#efe6ef"></div>
<div class="t" style="left:800.4px;top:565.3px;font-size:16.2px;line-height:19.4px;transform:scaleX(0.9876);color:#55585c;">‘Motivate &amp; Develop My Team’</div>
<div class="l" style="left:560.4px;top:672.4px;width:160.1px;height:53.2px;background:#efe6ef"></div>
<div class="t" style="left:594.7px;top:680.1px;font-size:16.2px;line-height:19.4px;transform:scaleX(0.9498);color:#55585c;">‘Breaking Bad</div>
<div class="t" style="left:569.8px;top:697.2px;font-size:16.2px;line-height:19.4px;transform:scaleX(0.9880);color:#55585c;">Management Habits’</div>
<div class="l" style="left:924.6px;top:714.9px;width:121.3px;height:34.5px;background:#f5ecd9"></div>
<div class="t" style="left:942.5px;top:722.1px;font-size:16.2px;line-height:19.4px;transform:scaleX(0.9776);color:#55585c;">‘Grit Mindset’</div>
<div class="l" style="left:1158.6px;top:724.0px;width:154.4px;height:31.7px;background:#f5ecd9"></div>
<div class="t" style="left:1173.8px;top:730.6px;font-size:16.2px;line-height:19.4px;transform:scaleX(0.9431);color:#55585c;">‘Raising my Game’</div>
<div class="l" style="left:645.2px;top:889.8px;width:217.7px;height:27.3px;background:#e6bfe3"></div>
<div class="t" style="left:656.1px;top:895.3px;font-size:16.2px;line-height:19.4px;transform:scaleX(0.9504);color:#55585c;">‘The Gift Of Asking For Help’</div>
<div class="l" style="left:995.2px;top:910.8px;width:192.1px;height:25.8px;background:#efe6ef"></div>
<div class="t" style="left:998.7px;top:915.6px;font-size:16.2px;line-height:19.4px;transform:scaleX(0.9593);color:#55585c;">‘Leading Through Change’</div>
<div class="l" style="left:941.5px;top:953.5px;width:234.5px;height:29.9px;background:#efe6ef"></div>
<div class="t" style="left:950.4px;top:958.5px;font-size:16.2px;line-height:19.4px;transform:scaleX(0.9634);color:#55585c;">‘Empower &amp; Engage My Team’</div>
<div class="l" style="left:1517.1px;top:893.0px;width:194.3px;height:34.7px;background:#efe6ef"></div>
<div class="t" style="left:1523.6px;top:901.5px;font-size:16.2px;line-height:19.4px;transform:scaleX(0.9629);color:#55585c;">‘Collaborative Leadership’</div>
<div class="l" style="left:1278.9px;top:1098.6px;width:167.5px;height:33.7px;background:#e6bfe3"></div>
<div class="t" style="left:1293.0px;top:1106.5px;font-size:16.2px;line-height:19.4px;transform:scaleX(0.9538);color:#55585c;">‘Stakeholder Savvy’</div>
<div class="l" style="left:966.6px;top:1140.5px;width:94.2px;height:35.8px;background:#f5ecd9"></div>
<div class="t" style="left:981.1px;top:1149.0px;font-size:16.2px;line-height:19.4px;transform:scaleX(0.9518);color:#55585c;">‘My ROI’</div>
<div class="t b" style="left:180.0px;top:81.5px;font-size:39.0px;line-height:46.8px;transform:scaleX(0.9599);color:#494d53;">START</div>
<div class="t b" style="left:1482.8px;top:1166.9px;font-size:34.0px;line-height:40.8px;transform:scaleX(0.9979);color:#494d53;">COMPLETION</div>
<div class="t b" style="left:1416.6px;top:155.3px;font-size:21.0px;line-height:25.2px;transform:scaleX(0.9742);color:#494d53;">Coaching Conversations</div>
<div class="t" style="left:1264.1px;top:182.7px;font-size:16.2px;line-height:19.4px;transform:scaleX(1.0200);color:#55595e;">7.5hrs of self-coaching, group coaching and a one 1:1</div>
<div class="t" style="left:1318.9px;top:200.5px;font-size:16.2px;line-height:19.4px;transform:scaleX(1.0269);color:#55595e;">coaching session held at a time of your choice</div>
<div class="t b" style="left:1492.0px;top:285.8px;font-size:21.0px;line-height:25.2px;transform:scaleX(0.9972);color:#494d53;">Career Catalysts</div>
<div class="t" style="left:1302.2px;top:314.4px;font-size:16.2px;line-height:19.4px;transform:scaleX(1.0320);color:#55595e;">x5 2h learning workshops to support your career</div>
<div class="t" style="left:1299.5px;top:332.1px;font-size:16.2px;line-height:19.4px;transform:scaleX(1.0292);color:#55595e;">advancement and business communication skills</div>
<div class="t b" style="left:1534.8px;top:412.9px;font-size:21.0px;line-height:25.2px;transform:scaleX(0.9250);color:#494d53;">Concept Cafe</div>
<div class="t" style="left:1334.5px;top:441.6px;font-size:16.2px;line-height:19.4px;transform:scaleX(1.0298);color:#55595e;">x3 informal sessions involving exploring and</div>
<div class="t" style="left:1306.9px;top:459.9px;font-size:16.2px;line-height:19.4px;transform:scaleX(1.0400);color:#55595e;">critiquing thought-leadership concepts, theories</div>
<div class="t b" style="left:1478.3px;top:542.0px;font-size:21.0px;line-height:25.2px;transform:scaleX(1.0366);color:#494d53;">Insight Injections</div>
<div class="t" style="left:1326.0px;top:573.3px;font-size:16.2px;line-height:19.4px;transform:scaleX(1.0246);color:#5b5265;">x6 1h sessions providing insight into the skills</div>
<div class="t" style="left:1425.0px;top:591.7px;font-size:16.2px;line-height:19.4px;transform:scaleX(1.0274);color:#5b5265;">of a great Shaw Gibbs manager</div>
<div class="t b" style="left:1487.3px;top:674.4px;font-size:21.0px;line-height:25.2px;transform:scaleX(0.9607);color:#4b3f58;">Networking Ninjas</div>
<div class="t" style="left:1398.3px;top:703.3px;font-size:16.2px;line-height:19.4px;transform:scaleX(1.0150);color:#654a74;">x3 1.5 hour reaserch and knowledge</div>
<div class="t" style="left:1517.3px;top:721.7px;font-size:16.2px;line-height:19.4px;transform:scaleX(1.0036);color:#654a74;">presenting sessions</div>
<div class="t b" style="left:118.2px;top:690.2px;font-size:36.0px;line-height:43.2px;transform:scaleX(0.9563);color:#494d53;">Peer Mentoring</div>
<div class="t" style="left:121.0px;top:749.7px;font-size:20.0px;line-height:24.0px;transform:scaleX(0.9634);color:#50555a;">Peer Mentoring sessions will be ongoing</div>
<div class="t" style="left:121.0px;top:777.7px;font-size:20.0px;line-height:24.0px;transform:scaleX(1.0080);color:#50555a;">throughout the programme,</div>
<div class="t" style="left:121.0px;top:806.1px;font-size:20.0px;line-height:24.0px;transform:scaleX(0.9491);color:#50555a;">in-between each session.</div>
<div class="t b" style="left:129.6px;top:901.9px;font-size:36.0px;line-height:43.2px;transform:scaleX(0.9470);color:#494d53;">Group Mentoring</div>
<div class="t" style="left:128.9px;top:963.3px;font-size:20.0px;line-height:24.0px;transform:scaleX(0.9682);color:#50555a;">Group Mentoring Sessions occur bi-monthly</div>
<div class="t" style="left:128.9px;top:991.7px;font-size:20.0px;line-height:24.0px;transform:scaleX(0.9619);color:#50555a;">after every other session.</div>
<div class="t b" style="left:189.3px;top:1110.0px;font-size:43.5px;line-height:52.2px;transform:scaleX(1.0498);color:#494d53;">ASPIRING MANAGER</div>
<div class="t b" style="left:154.7px;top:1176.4px;font-size:43.5px;line-height:52.2px;transform:scaleX(1.0177);color:#494d53;">PROGRAMME ROADMAP</div>
</body></html>
